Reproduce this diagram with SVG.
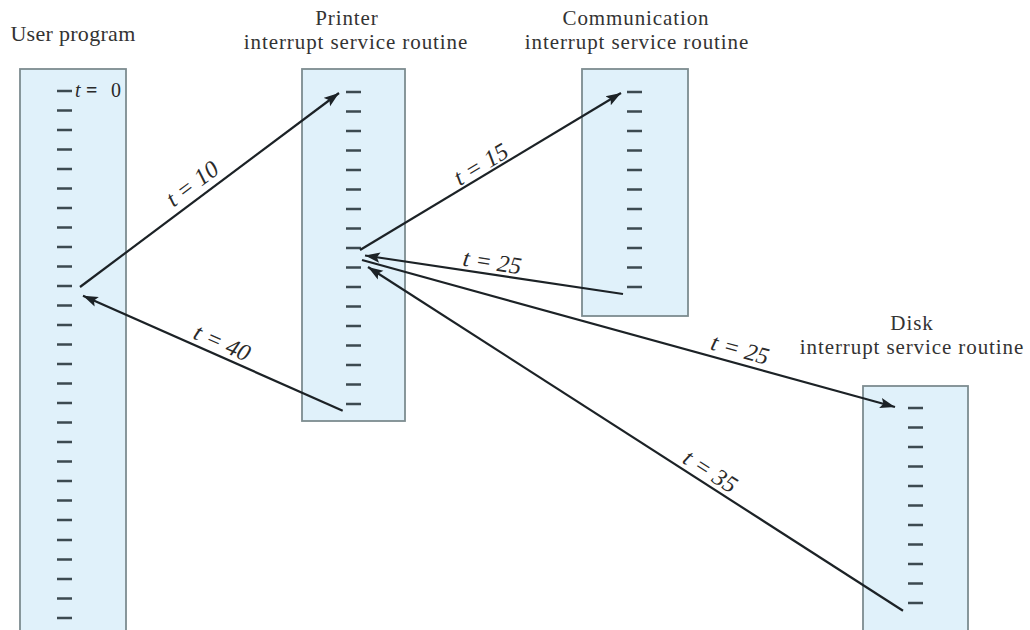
<svg xmlns="http://www.w3.org/2000/svg" width="1030" height="630" viewBox="0 0 1030 630">
<style>
.box{fill:#e0f1fa;stroke:#7d8c90;stroke-width:1.8}
.tick{stroke:#3c4a50;stroke-width:2.6;fill:none}
.title{font-family:"Liberation Serif","Times New Roman",serif;font-size:21px;letter-spacing:0.9px;fill:#333;text-anchor:middle}
.lbl{font-family:"Liberation Serif","Times New Roman",serif;font-size:24px;font-style:italic;fill:#2a2a2a;text-anchor:middle}
.conn{stroke:#1c2226;stroke-width:2.2;fill:none;marker-end:url(#ah)}
</style>
<defs>
<marker id="ah" markerUnits="userSpaceOnUse" markerWidth="16" markerHeight="12" refX="15" refY="6" orient="auto">
<path d="M0,0.8 L15,6 L0,11.2 L3,6 z" fill="#1c2226"/>
</marker>
</defs>
<rect width="1030" height="630" fill="#ffffff"/>

<g id="user-program">
<text class="title" x="73" y="41" style="font-size:22px;letter-spacing:0.3px">User program</text>
<rect class="box" x="20" y="69" width="106" height="570"/>
<path class="tick" d="M57,91h15M57,110.5h15M57,130h15M57,149.5h15M57,169h15M57,188.5h15M57,208h15M57,227.5h15M57,247h15M57,266.5h15M57,286h15M57,305.5h15M57,325h15M57,344.5h15M57,364h15M57,383.5h15M57,403h15M57,422.5h15M57,442h15M57,461.5h15M57,481h15M57,500.5h15M57,520h15M57,540h15M57,559.5h15M57,579h15M57,598.5h15M57,618h15"/>
<text font-family="'Liberation Serif','Times New Roman',serif" font-size="20" fill="#2a2a2a" y="97"><tspan x="75" font-style="italic">t</tspan><tspan x="86" font-weight="bold">=</tspan><tspan x="111">0</tspan></text>
</g>

<g id="printer-isr">
<text class="title" x="347" y="25">Printer</text>
<text class="title" x="356" y="49">interrupt service routine</text>
<rect class="box" x="302" y="69" width="103" height="352"/>
<path class="tick" d="M346,92h15M346,111.5h15M346,131h15M346,150.5h15M346,170h15M346,189.5h15M346,209h15M346,228.5h15M346,248h15M346,267.5h15M346,287h15M346,306.5h15M346,326h15M346,345.5h15M346,365h15M346,384.5h15M346,404h15"/>
</g>

<g id="communication-isr">
<text class="title" x="636" y="25">Communication</text>
<text class="title" x="637" y="49">interrupt service routine</text>
<rect class="box" x="582" y="69" width="106" height="247"/>
<path class="tick" d="M627,92h15M627,111.5h15M627,131h15M627,150.5h15M627,170h15M627,189.5h15M627,209h15M627,228.5h15M627,248h15M627,267.5h15M627,287h15"/>
</g>

<g id="disk-isr">
<text class="title" x="912" y="330">Disk</text>
<text class="title" x="912" y="354">interrupt service routine</text>
<rect class="box" x="863" y="386" width="105" height="260"/>
<path class="tick" d="M908,408h15M908,427.5h15M908,447h15M908,466.5h15M908,486h15M908,505.5h15M908,525h15M908,544.5h15M908,564h15M908,583.5h15M908,603h15"/>
</g>

<g id="connectors">
<path class="conn" d="M80,287 L339,93"/>
<path class="conn" d="M342.7,410.7 L83,295.7"/>
<path class="conn" d="M360,250 L621,93"/>
<path class="conn" d="M623,294 L365,255.5"/>
<path class="conn" d="M362,260 L895,407"/>
<path class="conn" d="M903,610.7 L368,267"/>
<text class="lbl" transform="translate(197,190) rotate(-36.8)">t = 10</text>
<text class="lbl" transform="translate(219,350) rotate(23.9)">t = 40</text>
<text class="lbl" transform="translate(485,171) rotate(-31)">t = 15</text>
<text class="lbl" transform="translate(491,270) rotate(8.6)">t = 25</text>
<text class="lbl" transform="translate(738,357) rotate(15.4)">t = 25</text>
<text class="lbl" transform="translate(706,478) rotate(32.7)">t = 35</text>
</g>
</svg>
